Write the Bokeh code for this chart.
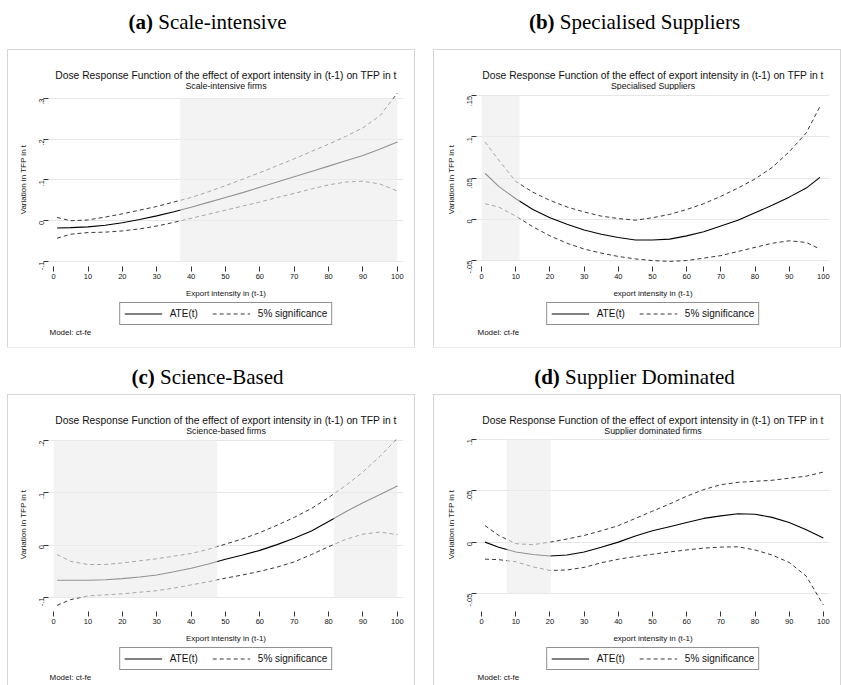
import math
from bokeh.plotting import figure
from bokeh.models import Range1d, FixedTicker, Label, Spacer, Legend, LegendItem
from bokeh.layouts import column, row
from bokeh.embed import file_html
from bokeh.resources import INLINE

SANS = "Liberation Sans"
SERIF = "Liberation Serif"

# ---------------- data ----------------
TITLE = "Dose Response Function of the effect of export intensity in (t-1) on TFP in t"

x_ticks = [0, 10, 20, 30, 40, 50, 60, 70, 80, 90, 100]
x_tick_labels = ["0", "10", "20", "30", "40", "50", "60", "70", "80", "90", "100"]

# (a) Scale-intensive
x_a = [1, 5, 10, 15, 20, 25, 30, 35, 40, 45, 50, 55, 60, 65, 70, 75, 80, 85, 90, 95, 100]
ate_a = [-0.018, -0.017, -0.015, -0.011, -0.005, 0.003, 0.012, 0.022, 0.033, 0.045, 0.057,
         0.069, 0.082, 0.095, 0.108, 0.121, 0.134, 0.147, 0.160, 0.176, 0.193]
upper_a = [0.008, 0.000, 0.002, 0.009, 0.017, 0.026, 0.035, 0.046, 0.057, 0.071, 0.086,
           0.102, 0.118, 0.135, 0.152, 0.170, 0.188, 0.207, 0.228, 0.258, 0.313]
lower_a = [-0.043, -0.033, -0.029, -0.028, -0.025, -0.020, -0.013, -0.004, 0.006, 0.016, 0.026,
           0.036, 0.046, 0.057, 0.067, 0.078, 0.088, 0.095, 0.097, 0.090, 0.073]
shade_a_left, shade_a_right = [36.8], [100]
yticks_a = [-0.1, 0, 0.1, 0.2, 0.3]
ylabels_a = ["-.1", "0", ".1", ".2", ".3"]

# (b) Specialised Suppliers
x_b = [1, 5, 10, 15, 20, 25, 30, 35, 40, 45, 50, 55, 60, 65, 70, 75, 80, 85, 90, 95, 99]
ate_b = [0.056, 0.040, 0.025, 0.012, 0.002, -0.006, -0.013, -0.018, -0.022, -0.025, -0.025,
         -0.024, -0.020, -0.015, -0.008, -0.001, 0.008, 0.017, 0.027, 0.038, 0.051]
upper_b = [0.094, 0.072, 0.046, 0.033, 0.023, 0.015, 0.009, 0.004, 0.001, -0.001, 0.002,
           0.006, 0.012, 0.019, 0.028, 0.038, 0.049, 0.063, 0.082, 0.105, 0.137]
lower_b = [0.019, 0.015, 0.004, -0.009, -0.020, -0.029, -0.036, -0.041, -0.045, -0.048, -0.050,
           -0.051, -0.050, -0.047, -0.044, -0.039, -0.034, -0.029, -0.026, -0.028, -0.036]
shade_b_left, shade_b_right = [0], [11.1]
yticks_b = [-0.05, 0, 0.05, 0.1, 0.15]
ylabels_b = ["-.05", "0", ".05", ".1", ".15"]

# (c) Science-Based
x_c = [1, 5, 10, 15, 20, 25, 30, 35, 40, 45, 50, 55, 60, 65, 70, 75, 80, 85, 90, 95, 100]
ate_c = [-0.067, -0.067, -0.067, -0.066, -0.064, -0.061, -0.057, -0.051, -0.044, -0.036, -0.027,
         -0.019, -0.010, 0.001, 0.013, 0.027, 0.045, 0.064, 0.081, 0.097, 0.113]
upper_c = [-0.018, -0.031, -0.037, -0.037, -0.034, -0.030, -0.026, -0.021, -0.016, -0.008, 0.002,
           0.012, 0.024, 0.038, 0.053, 0.070, 0.091, 0.114, 0.140, 0.170, 0.204]
lower_c = [-0.115, -0.104, -0.097, -0.095, -0.093, -0.090, -0.087, -0.082, -0.076, -0.070, -0.063,
           -0.057, -0.050, -0.042, -0.032, -0.018, -0.003, 0.011, 0.021, 0.025, 0.020]
shade_c_left, shade_c_right = [0, 81.5], [47.6, 100]
yticks_c = [-0.1, 0, 0.1, 0.2]
ylabels_c = ["-.1", "0", ".1", ".2"]

# (d) Supplier Dominated
x_d = [1, 5, 10, 15, 20, 25, 30, 35, 40, 45, 50, 55, 60, 65, 70, 75, 80, 85, 90, 95, 100]
ate_d = [0.000, -0.005, -0.0095, -0.012, -0.0135, -0.0125, -0.0095, -0.005, 0.000, 0.006, 0.011,
         0.015, 0.019, 0.023, 0.0255, 0.0275, 0.027, 0.024, 0.019, 0.012, 0.004]
upper_d = [0.016, 0.0065, -0.0015, -0.0025, 0.000, 0.003, 0.0065, 0.011, 0.016, 0.023, 0.030,
           0.037, 0.0445, 0.051, 0.0557, 0.058, 0.059, 0.060, 0.062, 0.064, 0.068]
lower_d = [-0.0165, -0.017, -0.019, -0.024, -0.0275, -0.027, -0.0245, -0.020, -0.0166, -0.014, -0.0118,
           -0.0095, -0.0076, -0.0058, -0.0048, -0.0045, -0.0076, -0.0125, -0.0197, -0.0330, -0.061]
shade_d_left, shade_d_right = [7.3], [20.2]
yticks_d = [-0.05, 0, 0.05, 0.1]
ylabels_d = ["-.05", "0", ".05", ".1"]

# ---------------- helpers ----------------
TIMES_R = {' ': 250, '(': 333, ')': 333, '-': 333, 'S': 556, 'B': 667, 'D': 722, 'a': 444,
           'c': 444, 'd': 500, 'e': 444, 'i': 278, 'l': 278, 'm': 778, 'n': 500, 'o': 500,
           'p': 500, 'r': 333, 's': 389, 't': 278, 'u': 500, 'v': 500}
TIMES_B = {'(': 333, ')': 333, 'a': 500, 'b': 556, 'c': 444, 'd': 556}


def text_w(s, table, fs):
    return sum(table.get(ch, 500) for ch in s) * fs / 1000.0


def blank_fig(width, height, xr, yr, left=0, right=0):
    p = figure(width=width, height=height, x_range=Range1d(*xr), y_range=Range1d(*yr),
               toolbar_location=None, output_backend="svg",
               x_axis_type=None, y_axis_type=None,
               min_border_left=left, min_border_right=right,
               min_border_top=0, min_border_bottom=0)
    p.outline_line_color = None
    p.background_fill_color = "white"
    p.border_fill_color = "white"
    return p


def caption_fig(width, height, cx, cy, bold, rest, fs=21):
    p = blank_fig(width, height, (0, width), (height, 0))
    wb = text_w(bold, TIMES_B, fs)
    ws = text_w(" ", TIMES_R, fs)
    wr = text_w(rest, TIMES_R, fs)
    start = cx - (wb + ws + wr) / 2.0
    p.add_layout(Label(x=start, y=cy, text=bold, text_font=SERIF, text_font_size=f"{fs}px",
                       text_font_style="bold", text_align="left", text_baseline="middle",
                       text_color="black"))
    p.add_layout(Label(x=start + wb + ws, y=cy, text=rest, text_font=SERIF,
                       text_font_size=f"{fs}px", text_font_style="normal", text_align="left",
                       text_baseline="middle", text_color="black"))
    return p


HEAD_H = 40
MAIN_H = 210          # head + main end 250 px below the box top
FRAME_TOP = 2         # inside the main figure
FRAME_H = 174


def panel(width, height, left, right, x, ate, up, lo, sh_left, sh_right, yticks, ylabels,
          yrange, subtitle, xlabel):
    fw = width - left - right

    # --- header: title + subtitle
    head = blank_fig(width, HEAD_H, (0, fw), (HEAD_H, 0), left, right)
    head.add_layout(Label(x=fw / 2, y=24.5, text=TITLE, text_font=SANS, text_font_size="10.3px",
                          text_align="center", text_baseline="middle", text_color="#111111"))
    head.add_layout(Label(x=fw / 2, y=35.5, text=subtitle, text_font=SANS, text_font_size="8.8px",
                          text_align="center", text_baseline="middle", text_color="#111111"))

    # --- main plot
    p = figure(width=width, height=MAIN_H, x_range=Range1d(-1.5, 101.8),
               y_range=Range1d(*yrange), toolbar_location=None, output_backend="svg",
               min_border_left=left, min_border_right=right, min_border_top=FRAME_TOP,
               min_border_bottom=MAIN_H - FRAME_TOP - FRAME_H)
    p.outline_line_color = None
    p.background_fill_color = "white"
    p.border_fill_color = "white"

    p.line(x, ate, line_color="black", line_width=1.1)
    p.line(x, up, line_color="#222222", line_width=0.9, line_dash="4 3")
    p.line(x, lo, line_color="#222222", line_width=0.9, line_dash="4 3")

    # shaded regions (drawn over the curves, as in the original)
    bottoms = [yticks[0]] * len(sh_left)
    tops = [yticks[-1]] * len(sh_left)
    p.quad(left=sh_left, right=sh_right, bottom=bottoms, top=tops,
           fill_color="#ececec", fill_alpha=0.62, line_color=None)

    p.xaxis.ticker = FixedTicker(ticks=x_ticks)
    p.xaxis.major_label_overrides = {t: l for t, l in zip(x_ticks, x_tick_labels)}
    p.yaxis.ticker = FixedTicker(ticks=yticks)
    p.yaxis.major_label_overrides = {t: l for t, l in zip(yticks, ylabels)}
    p.yaxis.major_label_orientation = math.pi / 2
    for ax in (p.xaxis[0], p.yaxis[0]):
        ax.axis_line_color = None
        ax.major_tick_in = 0
        ax.major_tick_out = 5
        ax.major_tick_line_color = "#333333"
        ax.major_tick_line_width = 1
        ax.minor_tick_line_color = None
        ax.major_label_text_font = SANS
        ax.major_label_text_font_size = "7.5px"
        ax.major_label_text_color = "#111111"
        ax.major_label_standoff = 2
        ax.axis_label_text_font = SANS
        ax.axis_label_text_font_size = "8px"
        ax.axis_label_text_font_style = "normal"
        ax.axis_label_text_color = "#111111"
    p.xaxis.axis_label = xlabel
    p.xaxis.axis_label_standoff = 7
    p.yaxis.axis_label = "Variation in TFP in t"
    p.yaxis.axis_label_standoff = 6

    p.xgrid.visible = False
    p.ygrid.grid_line_color = "#e6e6e6"
    p.ygrid.grid_line_width = 1

    # --- footer: legend + note
    foot_h = height - HEAD_H - MAIN_H
    foot = blank_fig(width, foot_h, (0, fw), (foot_h, 0), left, right)
    # legend keys: off-screen proxies carrying the line styles of the plot above
    k1 = foot.line(x=[-50, -40], y=[-50, -50], line_color="black", line_width=1.1)
    k2 = foot.line(x=[-50, -40], y=[-50, -50], line_color="#222222", line_width=0.9,
                   line_dash="4 3")
    legend = Legend(items=[LegendItem(label="ATE(t)", renderers=[k1]),
                           LegendItem(label="5% significance", renderers=[k2])],
                    orientation="horizontal", location="top_center")
    legend.label_text_font = SANS
    legend.label_text_font_size = "10px"
    legend.label_text_color = "#111111"
    legend.border_line_color = "#222222"
    legend.border_line_width = 1
    legend.background_fill_color = "white"
    legend.padding = 4
    legend.margin = 2
    legend.spacing = 14
    legend.glyph_width = 38
    legend.glyph_height = 13
    legend.label_standoff = 8
    foot.add_layout(legend)
    foot.add_layout(Label(x=1, y=32, text="Model: ct-fe", text_font=SANS, text_font_size="8px",
                          text_align="left", text_baseline="middle", text_color="#111111"))

    col = column(head, p, foot)
    col.styles = {"outline": "1px solid #d6d6d6"}
    return col


pa = panel(406, 297, 40, 11, x_a, ate_a, upper_a, lower_a, shade_a_left, shade_a_right,
           yticks_a, ylabels_a, (-0.1123, 0.3147), "Scale-intensive firms",
           "Export intensity in (t-1)")
pb = panel(406, 297, 42, 11, x_b, ate_b, upper_b, lower_b, shade_b_left, shade_b_right,
           yticks_b, ylabels_b, (-0.0572, 0.154), "Specialised Suppliers",
           "export intensity in (t-1)")
pc = panel(406, 290, 40, 11, x_c, ate_c, upper_c, lower_c, shade_c_left, shade_c_right,
           yticks_c, ylabels_c, (-0.1268, 0.2057), "Science-based firms",
           "Export intensity in (t-1)")
pd = panel(406, 290, 42, 11, x_d, ate_d, upper_d, lower_d, shade_d_left, shade_d_right,
           yticks_d, ylabels_d, (-0.0673, 0.1015), "Supplier dominated firms",
           "export intensity in (t-1)")

cap_a = caption_fig(421, 50, 207, 21, "(a)", "Scale-intensive")
cap_b = caption_fig(420, 50, 213, 21, "(b)", "Specialised Suppliers")
cap_c = caption_fig(421, 48, 207, 29, "(c)", "Science-Based")
cap_d = caption_fig(420, 48, 213, 29, "(d)", "Supplier Dominated")

layout = column(
    row(cap_a, cap_b),
    row(Spacer(width=8, height=297), pa, Spacer(width=20, height=297), pb),
    row(cap_c, cap_d),
    row(Spacer(width=8, height=290), pc, Spacer(width=20, height=290), pd),
)

open("out.html", "w").write(file_html(layout, INLINE))
